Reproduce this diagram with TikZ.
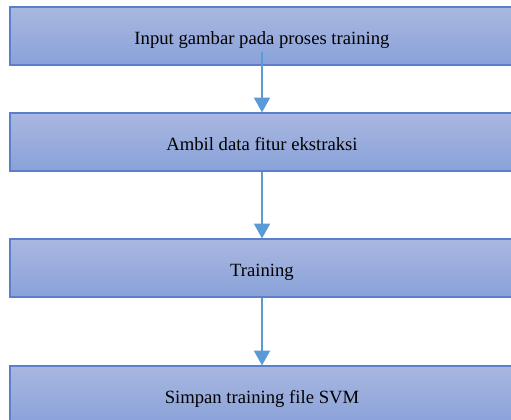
\documentclass[tikz,border=0pt]{standalone}
\usepackage{fontspec}
\setmainfont{Liberation Serif}
\usetikzlibrary{arrows.meta,positioning}
\definecolor{svmTop}{HTML}{A9B7E0}
\definecolor{svmBottom}{HTML}{89A2D9}
\definecolor{svmEdge}{HTML}{5B7FCA}
\definecolor{svmArrow}{HTML}{5B9BD5}

\begin{document}
\begin{tikzpicture}[x=0.75pt,y=-0.75pt, every node/.style={font=\fontsize{14}{16}\selectfont},
    tahap/.style={draw=svmEdge, line width=0.9pt, top color=svmTop, bottom color=svmBottom,
      minimum width=378pt, minimum height=43.5pt, inner sep=0pt, text height=14pt, text depth=2pt},
    alur/.style={draw=svmArrow, line width=0.9pt, -{Triangle[length=11pt,width=12pt]}}]
    \useasboundingbox (0,0) rectangle (511,419);
    \clip (0,0) rectangle (511,419);
    % tahapan proses training
    \node[tahap] (input) at (262,36) {Input gambar pada proses training};
    \node[tahap] (fitur) at (262,142) {Ambil data fitur ekstraksi};
    \node[tahap] (latih) at (262,268) {Training};
    \node[tahap] (simpan) at (262,395) {Simpan training file SVM};
    % panah antar tahap
    \draw[alur] ([yshift=10.5pt]input.south) -- (fitur);
    \draw[alur] (fitur) -- (latih);
    \draw[alur] (latih) -- (simpan);
  \end{tikzpicture}
\end{document}
